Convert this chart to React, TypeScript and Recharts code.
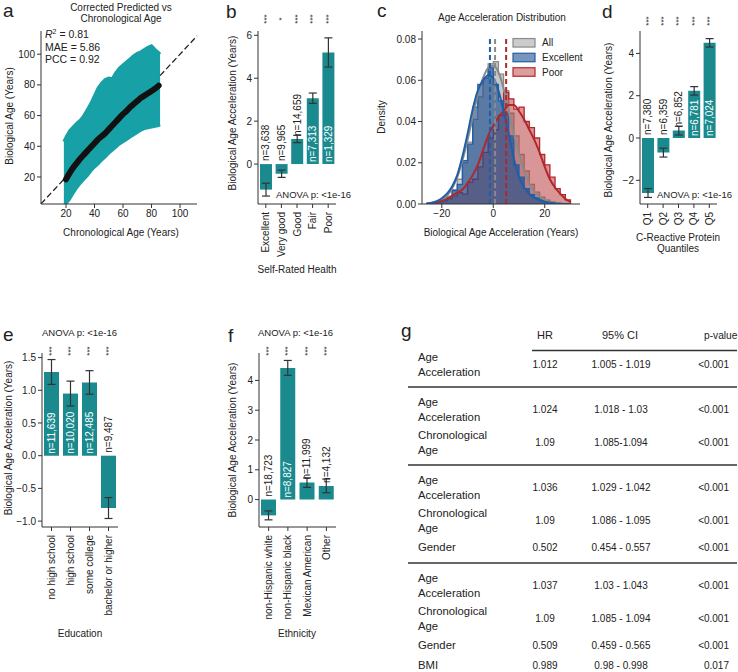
import React from 'react'
import {
  ComposedChart,
  BarChart,
  Bar,
  Area,
  Line,
  XAxis,
  YAxis,
  ErrorBar,
  LabelList,
  ReferenceLine,
} from 'recharts'

const FONT = '"Liberation Sans", Arial, Helvetica, sans-serif'
const INK = '#222'
const AXIS = '#333'
const TEAL = '#1b8a8f'
const TEAL_DOTS = '#17a0a5'
const AXW = 30 // space given to each axis

// ---- a: predicted vs chronological age
const ages = [18.5, 20, 22.5, 25, 27.5, 30, 32.5, 35, 37.5, 40, 42.5, 45, 47.5, 50, 52.5, 55, 57.5, 60, 62.5, 65, 67.5, 70, 72.5, 75, 77.5, 80, 82.5, 85, 86]
const cloudLow = [3, 2.7, 5.5, 9.5, 13, 16, 18.5, 21, 24, 26.5, 28.5, 31, 33, 35.5, 37.5, 39.5, 41.5, 43, 44.5, 46, 47.5, 49, 50.5, 51.5, 52, 52.5, 53, 53.5, 54]
const cloudHigh = [43, 46, 50, 52.5, 55, 57, 60, 64, 68, 73, 78, 81, 83.5, 84.5, 84, 88, 91, 93, 95, 97, 99, 100.5, 101.5, 103, 104.5, 105.5, 103, 101, 100]
const predMean = [null, 18.5, 22.5, 26, 29, 32, 34.5, 37, 39.5, 42, 44.5, 46.5, 48.5, 51, 53.5, 56, 58.5, 61, 63, 65.5, 67.5, 69.5, 71.5, 73, 74.5, 76, 77.5, 79.5, null]

// ---- b: self-rated health
const healthCats = ['Excellent', 'Very good', 'Good', 'Fair', 'Poor']
const healthMean = [-1.19, -0.45, 1.17, 3.07, 5.2]
const healthErr = [0.3, 0.17, 0.17, 0.24, 0.68]
const healthN = ['n=3,638', 'n=9,965', 'n=14,659', 'n=7,313', 'n=1,329']
const healthSig = ['***', '*', '***', '***', '***']

// ---- c: age acceleration distribution
const gridX = [-26, -24, -22, -20, -18, -16, -14, -12, -10, -8, -6, -4, -2, 0, 2, 4, 6, 8, 10, 12, 14, 16, 18, 20, 22, 24, 26, 28, 30]
const histAll = [0.0002, 0.0004, 0.0009, 0.0018, 0.0038, 0.007, 0.012, 0.02, 0.03, 0.041, 0.052, 0.061, 0.068, 0.069, 0.063, 0.055, 0.044, 0.033, 0.024, 0.016, 0.0095, 0.0058, 0.0033, 0.0019, 0.001, 0.0005, 0.0002, 0.0001]
const histExcellent = [0, 0.0003, 0.0008, 0.0015, 0.003, 0.0065, 0.0095, 0.021, 0.029, 0.047, 0.058, 0.061, 0.066, 0.058, 0.05, 0.044, 0.033, 0.019, 0.013, 0.0075, 0.0045, 0.003, 0.002, 0.001, 0.0006, 0.0002, 0, 0]
const histPoor = [0, 0, 0.0007, 0.0015, 0.0025, 0.0038, 0.0055, 0.0048, 0.0105, 0.012, 0.018, 0.025, 0.032, 0.036, 0.043, 0.054, 0.051, 0.046, 0.047, 0.04, 0.037, 0.032, 0.024, 0.019, 0.013, 0.0075, 0.0045, 0.002]
const kdeAll = [0.0002, 0.0005, 0.001, 0.002, 0.004, 0.0075, 0.013, 0.021, 0.031, 0.042, 0.053, 0.061, 0.066, 0.067, 0.064, 0.056, 0.045, 0.034, 0.024, 0.016, 0.01, 0.006, 0.0035, 0.002, 0.001, 0.0006, 0.0003, 0.0001, 0]
const kdeExcellent = [0.0002, 0.0006, 0.0014, 0.0028, 0.005, 0.0085, 0.014, 0.023, 0.034, 0.046, 0.055, 0.06, 0.0625, 0.061, 0.055, 0.045, 0.034, 0.022, 0.013, 0.008, 0.005, 0.003, 0.0018, 0.0011, 0.0006, 0.0003, 0.0001, 0, 0]
const kdePoor = [0, 0.0003, 0.0008, 0.0015, 0.0025, 0.004, 0.0055, 0.007, 0.01, 0.014, 0.019, 0.026, 0.033, 0.038, 0.042, 0.045, 0.048, 0.048, 0.045, 0.041, 0.036, 0.031, 0.025, 0.018, 0.012, 0.008, 0.005, 0.0025, 0.001]
const groupNames = ['All', 'Excellent', 'Poor']
const groupMeans = [0.7, -1.3, 5.0]

// ---- d: CRP quantiles
const crpCats = ['Q1', 'Q2', 'Q3', 'Q4', 'Q5']
const crpMean = [-2.6, -0.69, 0.35, 2.23, 4.5]
const crpErr = [0.21, 0.21, 0.21, 0.2, 0.2]
const crpN = ['n=7,380', 'n=6,359', 'n=6,852', 'n=6,781', 'n=7,024']
const crpSig = ['***', '***', '***', '***', '***']

// ---- e: education
const eduCats = ['no high school', 'high school', 'some college', 'bachelor or higher']
const eduMean = [1.28, 0.95, 1.12, -0.8]
const eduErr = [0.19, 0.19, 0.18, 0.16]
const eduN = ['n=11,639', 'n=10,020', 'n=12,485', 'n=9,487']
const eduSig = ['***', '***', '***', '***']

// ---- f: ethnicity
const ethCats = ['non-Hispanic white', 'non-Hispanic black', 'Mexican American', 'Other']
const ethMean = [-0.53, 4.42, 0.57, 0.46]
const ethErr = [0.15, 0.25, 0.16, 0.23]
const ethN = ['n=18,723', 'n=8,827', 'n=11,999', 'n=4,132']
const ethSig = ['***', '***', '***', '***']

// ---- g: Cox models
const coxModel = [1, 2, 2, 3, 3, 3, 4, 4, 4, 4]
const coxVar = ['Age Acceleration', 'Age Acceleration', 'Chronological Age', 'Age Acceleration', 'Chronological Age', 'Gender', 'Age Acceleration', 'Chronological Age', 'Gender', 'BMI']
const coxHR = ['1.012', '1.024', '1.09', '1.036', '1.09', '0.502', '1.037', '1.09', '0.509', '0.989']
const coxCI = ['1.005 - 1.019', '1.018 - 1.03', '1.085-1.094', '1.029 - 1.042', '1.086 - 1.095', '0.454 - 0.557', '1.03 - 1.043', '1.085 - 1.094', '0.459 - 0.565', '0.98 - 0.998']
const coxP = ['<0.001', '<0.001', '<0.001', '<0.001', '<0.001', '<0.001', '<0.001', '<0.001', '<0.001', '0.017']

const minus = (s: string) => s.replace('-', '\u2212')
const tickStyle = { fontSize: 10, fill: INK, fontFamily: FONT }

// plot rectangle -> chart margin, leaving room for the axes themselves
const plotMargin = (top: number, right: number, bottom: number, left: number) => ({
  top,
  right,
  bottom: bottom - AXW,
  left: left - AXW,
})

function box(p: any) {
  const v = p.viewBox && typeof p.viewBox.width === 'number' ? p.viewBox : p
  return { x: Number(v.x), y: Number(v.y), w: Number(v.width), h: Number(v.height) }
}

const rotTick = (p: any) => {
  const { x, y, payload } = p
  return (
    <text x={x} y={y} transform={`rotate(-90 ${x} ${y})`} textAnchor="end" dominantBaseline="central" fontSize={10} fill={INK} fontFamily={FONT}>
      {payload.value}
    </text>
  )
}

type BarPanelProps = {
  left: number
  top: number
  width: number
  height: number
  plot: [number, number, number, number]
  cats: string[]
  means: number[]
  errs: number[]
  ns: string[]
  sig: string[]
  domain: [number, number]
  ticks: number[]
  digits: number
  barSize: number
  starY: number
}

function BarPanel(props: BarPanelProps) {
  const { left, top, width, height, plot, cats, means, errs, ns, sig, domain, ticks, digits, barSize, starY } = props
  const data = cats.map((cat, i) => ({ cat, mean: means[i], err: errs[i], n: ns[i], sig: sig[i] }))

  const nLabel = (p: any) => {
    const { x, y, w, h } = box(p)
    const i = typeof p.index === 'number' ? p.index : ns.indexOf(String(p.value))
    const cx = x + w / 2
    const hi = Math.min(y, y + h)
    const lo = Math.max(y, y + h)
    const txt = String(p.value)
    let start = hi - 3
    let fill = INK
    if (means[i] > 0 && lo - hi > txt.length * 5.6 + 6) {
      start = lo - 2
      fill = '#fff'
    }
    return (
      <text x={cx} y={start} transform={`rotate(-90 ${cx} ${start})`} textAnchor="start" dominantBaseline="central" fontSize={10} fill={fill} fontFamily={FONT}>
        {txt}
      </text>
    )
  }

  const starLabel = (p: any) => {
    const { x, w } = box(p)
    const cx = x + w / 2
    return (
      <text x={cx} y={starY} transform={`rotate(-90 ${cx} ${starY})`} textAnchor="middle" dominantBaseline="central" fontSize={8} fill={INK} fontFamily={FONT}>
        {p.value}
      </text>
    )
  }

  return (
    <div style={{ position: 'absolute', left, top }}>
      <BarChart width={width} height={height} data={data} margin={plotMargin(...plot)}>
        <XAxis dataKey="cat" height={AXW} interval={0} tick={rotTick} tickSize={4} tickMargin={4} stroke={AXIS} />
        <YAxis
          width={AXW}
          domain={domain}
          ticks={ticks}
          interval={0}
          allowDataOverflow
          tickFormatter={(v: number) => minus(v.toFixed(digits))}
          tick={tickStyle}
          tickSize={4}
          tickMargin={2}
          stroke={AXIS}
        />
        <Bar dataKey="mean" fill={TEAL} barSize={barSize} isAnimationActive={false}>
          <ErrorBar dataKey="err" width={4} stroke="#333" strokeWidth={1.2} />
          <LabelList dataKey="n" content={nLabel} />
          <LabelList dataKey="sig" content={starLabel} />
        </Bar>
      </BarChart>
    </div>
  )
}

function PanelA() {
  const data = ages.map((age, i) => ({ age, cloud: [cloudLow[i], cloudHigh[i]], mean: predMean[i] }))
  const lo = 2.46
  const hi = 111.9
  const first = ages[0]
  const last = ages[ages.length - 1]
  return (
    <div style={{ position: 'absolute', left: 0, top: 0 }}>
      <ComposedChart width={200} height={250} data={data} margin={plotMargin(31, 3, 46, 41)}>
        <XAxis type="number" dataKey="age" height={AXW} domain={[lo, hi]} ticks={[20, 40, 60, 80, 100]} interval={0} allowDataOverflow tick={tickStyle} tickSize={4} tickMargin={2} stroke={AXIS} />
        <YAxis type="number" width={AXW} domain={[2.4, 115.1]} ticks={[20, 40, 60, 80, 100]} interval={0} allowDataOverflow tick={tickStyle} tickSize={4} tickMargin={2} stroke={AXIS} />
        <Area dataKey="cloud" type="linear" stroke={TEAL_DOTS} strokeWidth={3} fill={TEAL_DOTS} fillOpacity={1} isAnimationActive={false} />
        {/* identity line, visible only outside the point cloud */}
        <ReferenceLine segment={[{ x: lo, y: lo }, { x: first, y: first }]} stroke="#222" strokeWidth={1.3} strokeDasharray="6 3" />
        <ReferenceLine segment={[{ x: last, y: last }, { x: hi, y: hi }]} stroke="#222" strokeWidth={1.3} strokeDasharray="6 3" />
        <Line dataKey="mean" type="monotone" stroke="#111" strokeWidth={6} strokeLinecap="round" dot={false} isAnimationActive={false} />
      </ComposedChart>
    </div>
  )
}

const GROUP_LINE = ['#8a8a8a', '#1f5fa8', '#b3262b']
const GROUP_FILL = ['#9a9a9a', '#1f4f8f', '#b8403f']
const GROUP_OPACITY = [0.55, 0.65, 0.55]

function PanelC() {
  const data = gridX.map((x, i) => ({
    x,
    hAll: histAll[i] ?? 0,
    hExc: histExcellent[i] ?? 0,
    hPoor: histPoor[i] ?? 0,
    kAll: kdeAll[i],
    kExc: kdeExcellent[i],
    kPoor: kdePoor[i],
  }))
  return (
    <div style={{ position: 'absolute', left: 370, top: 0 }}>
      <ComposedChart width={220} height={250} data={data} margin={plotMargin(31, 10, 46, 52)}>
        <XAxis type="number" dataKey="x" height={AXW} domain={[-27.7, 33.7]} ticks={[-20, 0, 20]} interval={0} allowDataOverflow tickFormatter={(v: number) => minus(String(v))} tick={tickStyle} tickSize={4} tickMargin={2} stroke={AXIS} />
        <YAxis type="number" width={AXW} domain={[0, 0.0839]} ticks={[0, 0.02, 0.04, 0.06, 0.08]} interval={0} allowDataOverflow tickFormatter={(v: number) => v.toFixed(2)} tick={tickStyle} tickSize={4} tickMargin={2} stroke={AXIS} />
        <Area dataKey="hAll" type="stepAfter" stroke={GROUP_LINE[0]} strokeWidth={1.3} fill={GROUP_FILL[0]} fillOpacity={GROUP_OPACITY[0]} isAnimationActive={false} />
        <Area dataKey="hPoor" type="stepAfter" stroke={GROUP_LINE[2]} strokeWidth={1.3} fill={GROUP_FILL[2]} fillOpacity={GROUP_OPACITY[2]} isAnimationActive={false} />
        <Area dataKey="hExc" type="stepAfter" stroke={GROUP_LINE[1]} strokeWidth={1.3} fill={GROUP_FILL[1]} fillOpacity={GROUP_OPACITY[1]} isAnimationActive={false} />
        <Line dataKey="kAll" type="monotone" stroke={GROUP_LINE[0]} strokeWidth={2} dot={false} isAnimationActive={false} />
        <Line dataKey="kPoor" type="monotone" stroke={GROUP_LINE[2]} strokeWidth={2} dot={false} isAnimationActive={false} />
        <Line dataKey="kExc" type="monotone" stroke={GROUP_LINE[1]} strokeWidth={2} dot={false} isAnimationActive={false} />
        {groupMeans.map((m, i) => (
          <ReferenceLine key={groupNames[i]} segment={[{ x: m, y: 0 }, { x: m, y: 0.081 }]} stroke={GROUP_LINE[i]} strokeWidth={2} strokeDasharray="5 3" />
        ))}
      </ComposedChart>
    </div>
  )
}

function T({ x, y, children, size = 10, anchor = 'start', rot = 0, central = false }: any) {
  return (
    <text
      x={x}
      y={y}
      fontSize={size}
      textAnchor={anchor}
      dominantBaseline={central ? 'central' : undefined}
      transform={rot ? `rotate(${rot} ${x} ${y})` : undefined}
      fill={INK}
      fontFamily={FONT}
    >
      {children}
    </text>
  )
}

function CoxTable() {
  const rows: any[] = []
  const seps: number[] = []
  let cursor = 348
  coxVar.forEach((name, i) => {
    if (i > 0 && coxModel[i] !== coxModel[i - 1]) {
      cursor += 5.5
      seps.push(cursor)
      cursor += 5.5
    }
    const cut = name.indexOf(' ')
    const lines = cut > 0 ? [name.slice(0, cut), name.slice(cut + 1)] : [name]
    const h = lines.length === 2 ? 33.5 : 20
    const c = cursor + h / 2
    cursor += h
    rows.push(
      <g key={i}>
        {lines.length === 2 ? (
          <>
            <T x={418} y={c - 3.5} size={11.3}>{lines[0]}</T>
            <T x={418} y={c + 11.5} size={11.3}>{lines[1]}</T>
          </>
        ) : (
          <T x={418} y={c + 3.8} size={11.3}>{lines[0]}</T>
        )}
        <T x={545} y={c + 3.5} anchor="middle">{coxHR[i]}</T>
        <T x={621} y={c + 3.5} anchor="middle">{coxCI[i]}</T>
        <T x={729} y={c + 3.5} anchor="end">{coxP[i]}</T>
      </g>,
    )
  })
  return (
    <g>
      <T x={545} y={339} size={11} anchor="middle">HR</T>
      <T x={620} y={339} size={11} anchor="middle">95% CI</T>
      <T x={704} y={339} size={10.2}>p-value</T>
      <line x1={532} x2={737} y1={350.5} y2={350.5} stroke={AXIS} strokeWidth={1.3} />
      {seps.map((y) => (
        <line key={y} x1={408} x2={737} y1={y} y2={y} stroke={AXIS} strokeWidth={1.3} />
      ))}
      {rows}
    </g>
  )
}

function Overlay() {
  const legendY = [42.8, 57.5, 72]
  return (
    <svg width={738} height={672} style={{ position: 'absolute', left: 0, top: 0, pointerEvents: 'none' }}>
      {/* panel letters */}
      <T x={3} y={17} size={19}>a</T>
      <T x={226} y={18} size={19}>b</T>
      <T x={377} y={17} size={19}>c</T>
      <T x={602} y={18} size={19}>d</T>
      <T x={3} y={341} size={19}>e</T>
      <T x={228} y={342} size={19}>f</T>
      <T x={401} y={337} size={19}>g</T>

      {/* a */}
      <T x={121} y={11} anchor="middle">Corrected Predicted vs</T>
      <T x={121} y={22} anchor="middle">Chronological Age</T>
      <text x={45} y={37.5} fontSize={10.5} fill={INK} fontFamily={FONT}>
        <tspan fontStyle="italic">R</tspan>
        <tspan dy={-4} fontSize={7}>2</tspan>
        <tspan dy={4}> = 0.81</tspan>
      </text>
      <T x={45} y={50.5} size={10.5}>MAE = 5.86</T>
      <T x={45} y={63} size={10.5}>PCC = 0.92</T>
      <T x={121} y={236} anchor="middle">Chronological Age (Years)</T>
      <T x={9} y={116} anchor="middle" rot={-90} central>Biological Age (Years)</T>

      {/* b */}
      <T x={232.5} y={113} anchor="middle" rot={-90} central>Biological Age Acceleration (Years)</T>
      <T x={297} y={273} anchor="middle">Self-Rated Health</T>
      <T x={276} y={198} size={9.5}>ANOVA p: &lt;1e-16</T>

      {/* c */}
      <T x={502} y={21} anchor="middle">Age Acceleration Distribution</T>
      <T x={381.5} y={117} anchor="middle" rot={-90} central>Density</T>
      <T x={501} y={236} anchor="middle">Biological Age Acceleration (Years)</T>
      {groupNames.map((g, i) => (
        <g key={g}>
          <rect x={513} y={legendY[i] - 4.25} width={22} height={8.5} fill={GROUP_FILL[i]} fillOpacity={GROUP_OPACITY[i] - 0.05} stroke={GROUP_LINE[i]} strokeWidth={1.2} />
          <T x={542} y={legendY[i] + 3.6}>{g}</T>
        </g>
      ))}

      {/* d */}
      <T x={608} y={120} anchor="middle" rot={-90} central>Biological Age Acceleration (Years)</T>
      <T x={678} y={241} anchor="middle">C-Reactive Protein</T>
      <T x={678} y={252} anchor="middle">Quantiles</T>
      <T x={657} y={198} size={9.5}>ANOVA p: &lt;1e-16</T>

      {/* e */}
      <T x={42} y={336} size={9.5}>ANOVA p: &lt;1e-16</T>
      <T x={8} y={438} anchor="middle" rot={-90} central>Biological Age Acceleration (Years)</T>
      <T x={80} y={637} anchor="middle">Education</T>

      {/* f */}
      <T x={258} y={336} size={9.5}>ANOVA p: &lt;1e-16</T>
      <T x={232.5} y={440} anchor="middle" rot={-90} central>Biological Age Acceleration (Years)</T>
      <T x={297} y={637} anchor="middle">Ethnicity</T>

      <CoxTable />
    </svg>
  )
}

export default function App() {
  return (
    <div style={{ position: 'absolute', left: 0, top: 0, width: 738, height: 672, background: '#fff', overflow: 'hidden', fontFamily: FONT }}>
      <PanelA />
      <BarPanel
        left={190}
        top={0}
        width={160}
        height={290}
        plot={[31, 14, 86, 68]}
        cats={healthCats}
        means={healthMean}
        errs={healthErr}
        ns={healthN}
        sig={healthSig}
        domain={[-1.86, 6.2]}
        ticks={[0, 2, 4, 6]}
        digits={0}
        barSize={12}
        starY={19}
      />
      <PanelC />
      <BarPanel
        left={590}
        top={0}
        width={148}
        height={290}
        plot={[31, 21, 86, 50]}
        cats={crpCats}
        means={crpMean}
        errs={crpErr}
        ns={crpN}
        sig={crpSig}
        domain={[-3.12, 5.06]}
        ticks={[-2, 0, 2, 4]}
        digits={0}
        barSize={12}
        starY={21}
      />
      <BarPanel
        left={0}
        top={300}
        width={130}
        height={372}
        plot={[53, 12, 145, 42]}
        cats={eduCats}
        means={eduMean}
        errs={eduErr}
        ns={eduN}
        sig={eduSig}
        domain={[-1.09, 1.57]}
        ticks={[-1, -0.5, 0, 0.5, 1, 1.5]}
        digits={1}
        barSize={15}
        starY={51}
      />
      <BarPanel
        left={200}
        top={300}
        width={150}
        height={372}
        plot={[53, 14, 145, 59]}
        cats={ethCats}
        means={ethMean}
        errs={ethErr}
        ns={ethN}
        sig={ethSig}
        domain={[-0.92, 4.92]}
        ticks={[0, 1, 2, 3, 4]}
        digits={0}
        barSize={15}
        starY={51}
      />
      <Overlay />
    </div>
  )
}
